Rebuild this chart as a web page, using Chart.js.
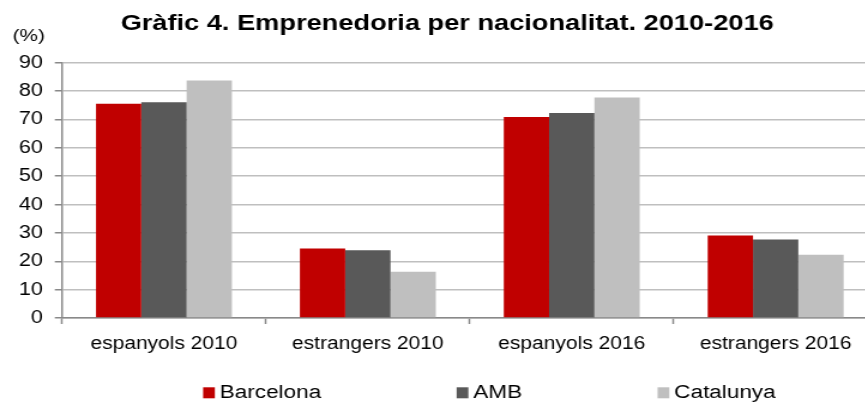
<!DOCTYPE html>
<html>
<head>
<meta charset="utf-8">
<script src="https://cdn.jsdelivr.net/npm/chart.js@4.4.1/dist/chart.umd.min.js"></script>
<style>
  html, body { margin: 0; padding: 0; background: #fff; overflow: hidden; }
</style>
</head>
<body>
<!-- el canvas s'estira una mica en horitzontal, com el grafic original -->
<canvas id="grafic" width="734" height="403" style="display:block;width:880px;height:403px"></canvas>
<script>
const categories = ['espanyols 2010', 'estrangers 2010', 'espanyols 2016', 'estrangers 2016'];
const seriesNames = ['Barcelona', 'AMB', 'Catalunya'];
const barcelona = [75.5, 24.5, 70.9, 29.1];
const amb = [76.1, 23.9, 72.3, 27.7];
const catalunya = [83.7, 16.3, 77.7, 22.3];
const yTicks = [0, 10, 20, 30, 40, 50, 60, 70, 80, 90];
const titol = 'Gràfic 4. Emprenedoria per nacionalitat. 2010-2016';
const unitat = '(%)';
const couleurs = ['#C00000', '#595959', '#BFBFBF'];
const FONT = '"Liberation Sans", Arial, Helvetica, sans-serif';
const GRIS_EIX = '#898989';

// titol, unitat i llegenda dibuixats a ma
const textosPlugin = {
  id: 'textos',
  afterDraw(chart) {
    const ctx = chart.ctx;
    ctx.save();
    ctx.fillStyle = '#000';
    ctx.textBaseline = 'alphabetic';
    ctx.font = 'bold 22.7px ' + FONT;
    ctx.textAlign = 'center';
    ctx.fillText(titol, 373, 30);
    ctx.font = '17.3px ' + FONT;
    ctx.textAlign = 'left';
    ctx.fillText(unitat, 10.6, 41);
    // llegenda
    ctx.font = '18.8px ' + FONT;
    let x = 169.4;
    chart.data.datasets.forEach((ds) => {
      ctx.fillStyle = ds.backgroundColor;
      ctx.fillRect(x, 387.3, 9.8, 11);
      ctx.fillStyle = '#000';
      ctx.fillText(ds.label, x + 13.9, 398);
      x += 13.9 + ctx.measureText(ds.label).width + 113;
    });
    ctx.restore();
  }
};

const valors = [barcelona, amb, catalunya];
const datasets = seriesNames.map((nom, i) => ({
  label: nom,
  data: valors[i],
  backgroundColor: couleurs[i],
  borderWidth: 0,
  categoryPercentage: 2 / 3,
  barPercentage: 1,
}));

new Chart(document.getElementById('grafic'), {
  type: 'bar',
  data: { labels: categories, datasets: datasets },
  options: {
    responsive: false,
    animation: false,
    devicePixelRatio: 1,
    layout: { padding: { top: 62.7, bottom: 45, left: 0, right: 2 } },
    plugins: {
      legend: { display: false },
      title: { display: false },
      tooltip: { enabled: false },
    },
    scales: {
      x: {
        grid: { drawOnChartArea: false, offset: true, tickLength: 6, tickColor: GRIS_EIX, tickWidth: 1.5 },
        border: { color: GRIS_EIX, width: 1.5 },
        ticks: { color: '#000', font: { family: FONT, size: 17.5 }, padding: 10, maxRotation: 0, autoSkip: false },
        afterFit(scale) { scale.height = 40; },
      },
      y: {
        min: yTicks[0],
        max: yTicks[yTicks.length - 1],
        ticks: { stepSize: yTicks[1] - yTicks[0], color: '#000', font: { family: FONT, size: 18 }, padding: 10 },
        grid: { color: '#BFBFBF', lineWidth: 1.5, tickLength: 6, tickColor: GRIS_EIX, tickWidth: 1.5 },
        border: { color: GRIS_EIX, width: 1.5 },
        afterFit(scale) { scale.width = 51.7; },
      },
    },
  },
  plugins: [textosPlugin],
});
</script>
</body>
</html>
